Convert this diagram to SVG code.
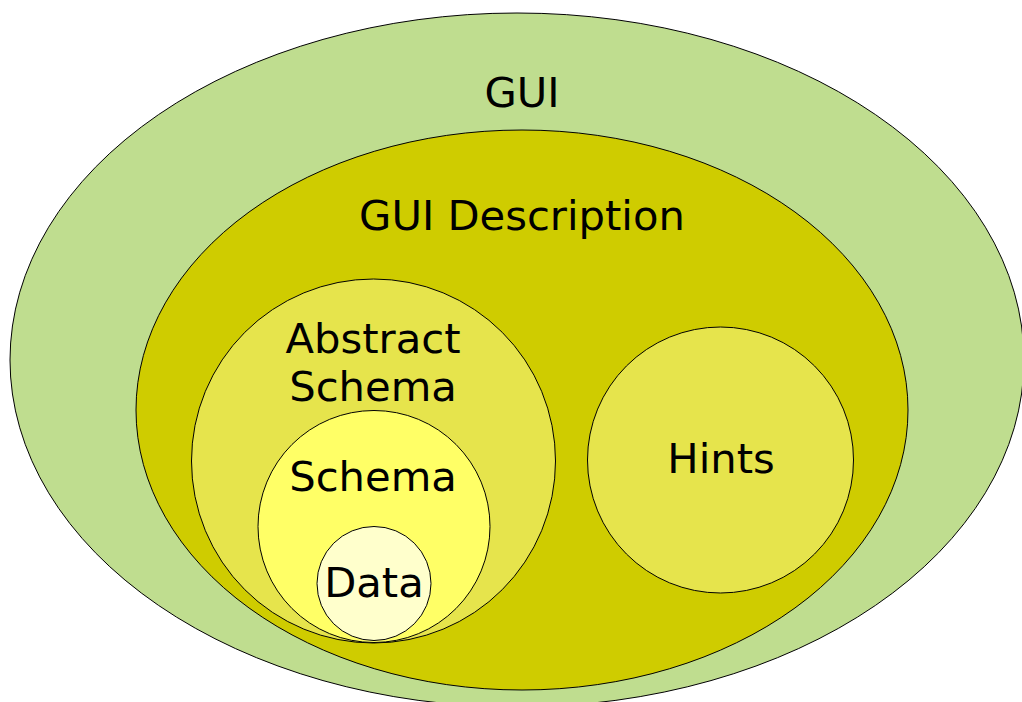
<svg xmlns="http://www.w3.org/2000/svg" width="1022" height="702" viewBox="0 0 1022 702">
<style>
.s{stroke:#000;stroke-width:1}
.t{font-family:"DejaVu Sans",sans-serif;font-size:41.7px;fill:#000;text-anchor:middle}
</style>
<rect width="1022" height="702" fill="#fff"/>
<g id="gui"><ellipse class="s" cx="517" cy="360" rx="507" ry="347" fill="#bfdd8f"/><text class="t" x="522" y="107">GUI</text></g>
<g id="gui-description"><ellipse class="s" cx="522" cy="410" rx="386" ry="280" fill="#cfcc00"/><text class="t" x="522" y="230">GUI Description</text></g>
<g id="abstract-schema"><circle class="s" cx="373.5" cy="461" r="182" fill="#e6e44c"/><text class="t" x="373" y="353">Abstract</text><text class="t" x="373" y="401">Schema</text></g>
<g id="schema"><circle class="s" cx="374" cy="526.5" r="116" fill="#ffff66"/><text class="t" x="373" y="491">Schema</text></g>
<g id="data"><circle class="s" cx="374" cy="583.5" r="57" fill="#ffffcc"/><text class="t" x="374" y="597">Data</text></g>
<g id="hints"><circle class="s" cx="720.5" cy="460" r="133" fill="#e6e44c"/><text class="t" x="721" y="473">Hints</text></g>
<g id="connectors"/>
</svg>
